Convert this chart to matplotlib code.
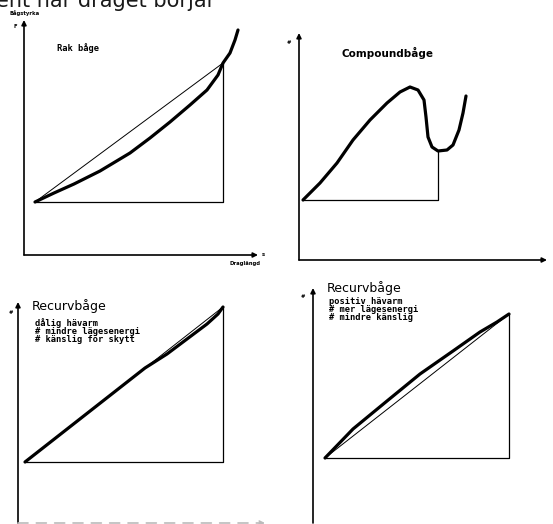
import matplotlib.pyplot as plt

W, H = 553, 524

# curves, in panel units (draw length, draw force) measured from each axis corner
rak_x = [11, 30, 50, 76, 106, 126, 146, 166, 183, 194, 199, 206, 211, 214]
rak_y = [53, 62, 71, 84, 102, 117, 133, 150, 165, 180, 192, 202, 215, 225]
rak_chord_x = [11, 199]
rak_chord_y = [53, 192]

comp_x = [4, 21, 38, 54, 71, 88, 101, 111, 119, 125, 127, 129, 133, 139, 148, 154, 160, 164, 167]
comp_y = [60, 77, 97, 120, 140, 157, 168, 173, 170, 160, 143, 123, 113, 109, 110, 115, 130, 147, 164]
comp_stop_x = [4, 139]
comp_stop_y = [60, 109]

rec1_x = [7, 67, 127, 149, 169, 189, 200, 205]
rec1_y = [61, 108, 155, 169, 184, 199, 209, 216]
rec1_chord_x = [7, 205]
rec1_chord_y = [61, 216]

rec2_x = [12, 40, 74, 107, 140, 167, 184, 196]
rec2_y = [65, 94, 122, 149, 172, 191, 201, 209]
rec2_chord_x = [12, 196]
rec2_chord_y = [65, 209]

rec1_notes = ["dålig hävarm", "# mindre lägesenergi", "# känslig för skytt"]
rec2_notes = ["positiv hävarm", "# mer lägesenergi", "# mindre känslig"]

fig = plt.figure(figsize=(W / 100, H / 100), dpi=100)


def px_axes(l, t, r, b):
    ax = fig.add_axes([l / W, 1 - b / H, (r - l) / W, (b - t) / H])
    ax.set_xlim(0, r - l)
    ax.set_ylim(0, b - t)
    ax.axis('off')
    return ax


def arrow(ax, end, color='black', ls='-'):
    ax.annotate('', xy=end, xytext=(0, 0), xycoords='axes fraction',
                arrowprops=dict(arrowstyle='-|>', lw=1.2, color=color, linestyle=ls,
                                mutation_scale=7, shrinkA=0, shrinkB=0),
                annotation_clip=False)


def ftext(x, y, s, **kw):
    fig.text(x / W, 1 - y / H, s, **kw)


def panel(ax, cx, cy, kx, ky, chord=True):
    # triangle: base line and vertical at full draw
    ax.plot([kx[0], kx[1], kx[1]], [ky[0], ky[0], ky[1]], color='black', lw=0.9, clip_on=False)
    if chord:
        ax.plot(kx, ky, color='black', lw=0.7, clip_on=False)
    ax.plot(cx, cy, color='black', lw=2.3, solid_capstyle='round',
            solid_joinstyle='round', clip_on=False)


mono = dict(family='DejaVu Sans Mono', weight='bold', fontsize=6.3, va='center')
tiny = dict(family='DejaVu Sans', weight='bold', fontsize=3.8, va='center')

# cut-off caption at the very top
ftext(-4, 7, "ent när draget börjar", fontsize=15, color='#1a1a1a', va='baseline')

# panel 1: rak båge
ax1 = px_axes(24, 20, 258, 255)
arrow(ax1, (0, 1))
arrow(ax1, (1, 0))
panel(ax1, rak_x, rak_y, rak_chord_x, rak_chord_y)
ftext(10, 13, "Bågstyrka", **tiny)
ftext(14, 27, "F", **tiny)
ftext(262, 254, "s", **tiny)
ftext(230, 263, "Draglängd", **tiny)
ftext(57, 48, "Rak båge", **mono)

# panel 2: compoundbåge
ax2 = px_axes(299, 33, 547, 260)
arrow(ax2, (0, 1))
arrow(ax2, (1, 0))
panel(ax2, comp_x, comp_y, comp_stop_x, comp_stop_y, chord=False)
ftext(287, 43, "#", **tiny)
ftext(342, 53, "Compoundbåge", family='DejaVu Sans', weight='bold', fontsize=7.5, va='center')

# panel 3: recurvbåge, dålig hävarm
ax3 = px_axes(18, 302, 265, 523)
arrow(ax3, (0, 1))
arrow(ax3, (1, 0), color='#bbbbbb', ls=(0, (6, 5)))
panel(ax3, rec1_x, rec1_y, rec1_chord_x, rec1_chord_y)
ftext(9, 313, "#", **tiny)
ftext(32, 306, "Recurvbåge", family='DejaVu Sans', fontsize=9, va='center')
for i, s in enumerate(rec1_notes):
    ftext(35, 323 + 8 * i, s, **mono)

# panel 4: recurvbåge, positiv hävarm
ax4 = px_axes(313, 288, 553, 523)
arrow(ax4, (0, 1))
panel(ax4, rec2_x, rec2_y, rec2_chord_x, rec2_chord_y)
ftext(301, 297, "#", **tiny)
ftext(327, 288, "Recurvbåge", family='DejaVu Sans', fontsize=9, va='center')
for i, s in enumerate(rec2_notes):
    ftext(329, 302 + 8 * i, s, **mono)

fig.savefig('out.png', dpi=100)
